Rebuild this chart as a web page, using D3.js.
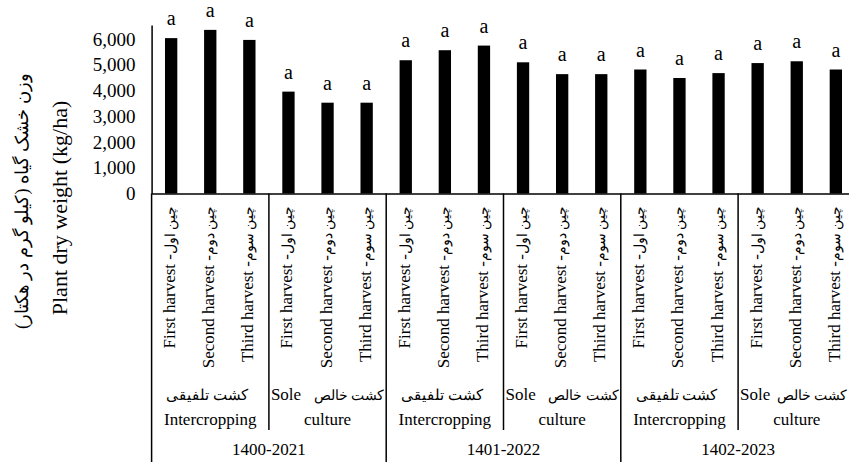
<!DOCTYPE html>
<html>
<head>
<meta charset="utf-8">
<script src="https://cdn.jsdelivr.net/npm/d3@7"></script>
<style>
  body { margin: 0; background: #fff; }
  svg { display: block; }
</style>
</head>
<body>
<div id="chart"></div>
<script>
// Chart data
const years = ["1400-2021", "1401-2022", "1402-2023"];
const systemsEn = ["Intercropping", "Sole culture"];
const systemsFa = ["کشت تلفیقی", "کشت خالص"];
const harvestsEn = ["First harvest -", "Second harvest -", "Third harvest -"];
const harvestsFa = ["چین اول", "چین دوم", "چین سوم"];
const dryWeight = [6040, 6360, 5970, 3960, 3530, 3530, 5180, 5570, 5750,
                   5100, 4640, 4640, 4820, 4490, 4680, 5070, 5140, 4820];
const letters = ["a", "a", "a", "a", "a", "a", "a", "a", "a",
                 "a", "a", "a", "a", "a", "a", "a", "a", "a"];
const yTicks = [0, 1000, 2000, 3000, 4000, 5000, 6000];

const width = 849, height = 462;
const axisY = 193.5, left = 151.6, right = 855.4;
const serif = "'Liberation Serif', 'Times New Roman', 'DejaVu Serif', serif";

// Build one row per bar
const rows = [];
years.forEach((yr, yi) => {
    systemsEn.forEach((sys, si) => {
        harvestsEn.forEach((h, hi) => {
            const i = yi * 6 + si * 3 + hi;
            rows.push({ i, hi, year: yr, system: si, value: dryWeight[i], letter: letters[i] });
        });
    });
});

const svg = d3.select("#chart").append("svg")
    .attr("width", width)
    .attr("height", height)
    .style("font-family", serif);

const x = d3.scaleBand()
    .domain(rows.map(d => d.i))
    .range([left, right])
    .paddingInner(0.685)
    .paddingOuter(0.3425);

const groupX = d3.scaleBand().domain(d3.range(6)).range([left, right]);
const yearX = d3.scaleBand().domain(years).range([left, right]);

const y = d3.scaleLinear()
    .domain([0, 6550])
    .range([axisY, 25]);

// Bars
svg.append("g").selectAll("rect")
    .data(rows)
    .join("rect")
    .attr("x", d => x(d.i))
    .attr("y", d => y(d.value))
    .attr("width", x.bandwidth())
    .attr("height", d => y(0) - y(d.value))
    .attr("fill", "#000");

// Significance letters
svg.append("g").selectAll("text")
    .data(rows)
    .join("text")
    .attr("x", d => x(d.i) + x.bandwidth() / 2)
    .attr("y", d => y(d.value) - 13)
    .attr("text-anchor", "middle")
    .style("font-family", serif)
    .style("font-size", "20px")
    .text(d => d.letter);

// Y axis
const yAxis = svg.append("g")
    .attr("transform", `translate(${left},0)`)
    .call(d3.axisLeft(y).tickValues(yTicks).tickSize(0).tickSizeOuter(0).tickPadding(16)
        .tickFormat(d3.format(",")));
yAxis.attr("font-family", null);
yAxis.select(".domain").attr("stroke", "#000").attr("stroke-width", 1.5);
yAxis.selectAll("text").style("font-family", serif).style("font-size", "19px").attr("fill", "#000");

// X axis with rotated harvest labels
const xAxis = svg.append("g")
    .attr("transform", `translate(0,${axisY})`)
    .call(d3.axisBottom(x).tickSize(0).tickSizeOuter(0).tickFormat(""));
xAxis.attr("font-family", null);
xAxis.select(".domain").attr("stroke", "#000").attr("stroke-width", 1.5);
const tickText = xAxis.selectAll(".tick text")
    .style("font-family", serif)
    .style("font-size", "17px")
    .attr("fill", "#000")
    .attr("transform", "rotate(-90)")
    .attr("x", -12)
    .attr("y", -2)
    .attr("dy", "0.35em")
    .attr("text-anchor", "end");
tickText.append("tspan").text(i => harvestsEn[rows[i].hi]);
tickText.append("tspan").style("font-size", "14px").text(i => harvestsFa[rows[i].hi]);

// Group separators
const seps = d3.range(7).map(k => ({ x: left + (right - left) * k / 6, long: k % 2 === 0 }));
svg.append("g").selectAll("line")
    .data(seps)
    .join("line")
    .attr("x1", d => d.x).attr("x2", d => d.x)
    .attr("y1", axisY).attr("y2", d => d.long ? height : 430)
    .attr("stroke", "#000")
    .attr("stroke-width", 1.5);

// Cropping system labels
const groups = d3.range(6).map(g => ({ g, system: g % 2 }));
const glab = svg.append("g").style("font-size", "17px");
groups.forEach(d => {
    const x0 = groupX(d.g), x1 = x0 + groupX.bandwidth(), cx = (x0 + x1) / 2;
    if (d.system === 0) {
        glab.append("text").attr("x", cx - 3).attr("y", 400)
            .attr("text-anchor", "middle").style("font-size", "15px").text(systemsFa[0]);
        glab.append("text").attr("x", cx).attr("y", 425)
            .attr("text-anchor", "middle").text(systemsEn[0]);
    } else {
        const parts = systemsEn[1].split(" ");
        glab.append("text").attr("x", x0 + 2).attr("y", 400).text(parts[0]);
        glab.append("text").attr("x", Math.min(x1 - 2, width - 2)).attr("y", 400)
            .attr("text-anchor", "end").style("font-size", "14px").text(systemsFa[1]);
        glab.append("text").attr("x", cx).attr("y", 425)
            .attr("text-anchor", "middle").text(parts[1]);
    }
});

// Year labels
svg.append("g").selectAll("text")
    .data(years)
    .join("text")
    .attr("x", d => yearX(d) + yearX.bandwidth() / 2)
    .attr("y", 455)
    .attr("text-anchor", "middle")
    .style("font-size", "17px")
    .text(d => d);

// Y axis titles
svg.append("text")
    .attr("transform", "translate(67,208) rotate(-90)")
    .attr("text-anchor", "middle")
    .style("font-family", serif)
    .style("font-size", "22px")
    .text("Plant dry weight (kg/ha)");
svg.append("text")
    .attr("transform", "translate(28,201) rotate(-90)")
    .attr("text-anchor", "middle")
    .style("font-size", "18px")
    .text("وزن خشک گیاه (کیلو گرم در هکتار)");
</script>
</body>
</html>
